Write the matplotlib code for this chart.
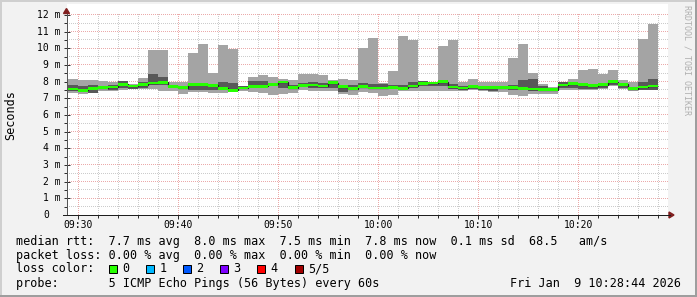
import matplotlib
matplotlib.use("Agg")
import matplotlib.pyplot as plt
import matplotlib.dates as mdates
from matplotlib.patches import Rectangle, Polygon
from matplotlib.lines import Line2D
from matplotlib.colors import to_rgba
import numpy as np
import pandas as pd

W, H, DPI = 697, 297, 100

# ---------------- data (5 sorted pings per minute, ms) ----------------
start_time = "2026-01-09 09:28"
ping_max = [7.90, 8.16, 8.08, 8.08, 8.06, 7.96, 8.02, 7.86, 8.22, 9.92,
            9.92, 7.96, 7.96, 9.72, 10.26, 8.52, 10.20, 9.96, 7.74, 8.26,
            8.38, 8.26, 8.16, 8.08, 8.46, 8.46, 8.38, 8.12, 8.16, 8.10,
            10.02, 10.62, 7.92, 8.66, 10.76, 10.52, 8.06, 7.98, 10.12, 10.48,
            7.96, 8.16, 7.96, 7.96, 7.96, 9.42, 10.26, 8.52, 7.86, 7.68,
            7.96, 8.16, 8.72, 8.78, 8.48, 8.72, 8.12, 7.96, 10.56, 11.46]
ping_p4 = [7.80, 7.82, 7.74, 7.82, 7.68, 7.82, 8.02, 7.82, 7.98, 8.48,
           8.28, 7.76, 7.72, 7.92, 7.84, 7.80, 7.96, 7.92, 7.72, 8.02,
           8.02, 7.92, 8.02, 7.82, 7.92, 7.96, 7.92, 8.06, 7.72, 7.78,
           7.92, 7.88, 7.88, 7.82, 7.82, 7.98, 8.02, 7.98, 8.06, 7.88,
           7.72, 7.82, 7.72, 7.72, 7.72, 7.82, 8.12, 8.18, 7.72, 7.62,
           7.96, 7.98, 7.92, 7.88, 7.82, 8.02, 7.92, 7.68, 7.98, 8.16]
ping_median = [7.54, 7.56, 7.47, 7.60, 7.64, 7.67, 7.84, 7.74, 7.82, 7.92,
               7.96, 7.72, 7.64, 7.84, 7.84, 7.78, 7.60, 7.48, 7.62, 7.72,
               7.72, 7.84, 7.98, 7.64, 7.78, 7.80, 7.75, 7.94, 7.70, 7.58,
               7.70, 7.62, 7.62, 7.66, 7.60, 7.74, 7.90, 7.92, 8.00, 7.68,
               7.62, 7.72, 7.64, 7.64, 7.64, 7.66, 7.60, 7.56, 7.52, 7.52,
               7.80, 7.88, 7.82, 7.76, 7.82, 8.00, 7.84, 7.58, 7.68, 7.74]
ping_p2 = [7.40, 7.42, 7.38, 7.34, 7.58, 7.52, 7.62, 7.56, 7.62, 7.78,
           7.82, 7.62, 7.54, 7.52, 7.52, 7.52, 7.52, 7.42, 7.56, 7.62,
           7.62, 7.72, 7.62, 7.62, 7.72, 7.62, 7.62, 7.62, 7.38, 7.52,
           7.62, 7.56, 7.58, 7.58, 7.52, 7.62, 7.76, 7.72, 7.72, 7.58,
           7.52, 7.58, 7.52, 7.42, 7.56, 7.52, 7.52, 7.42, 7.42, 7.42,
           7.62, 7.62, 7.58, 7.56, 7.62, 7.82, 7.62, 7.52, 7.52, 7.52]
ping_min = [7.16, 7.32, 7.26, 7.32, 7.42, 7.46, 7.52, 7.56, 7.56, 7.56,
            7.46, 7.46, 7.26, 7.38, 7.38, 7.32, 7.32, 7.38, 7.46, 7.38,
            7.32, 7.22, 7.26, 7.32, 7.52, 7.46, 7.46, 7.42, 7.26, 7.22,
            7.38, 7.32, 7.12, 7.22, 7.42, 7.46, 7.46, 7.46, 7.46, 7.46,
            7.46, 7.52, 7.46, 7.38, 7.38, 7.22, 7.12, 7.26, 7.26, 7.26,
            7.52, 7.52, 7.52, 7.52, 7.56, 7.76, 7.56, 7.42, 7.48, 7.48]

x_tick_labels = ["09:30", "09:40", "09:50", "10:00", "10:10", "10:20"]
y_tick_values = list(range(0, 13))
y_unit = "m"
y_label = "Seconds"

legend_rows = [
    "median rtt:  7.7 ms avg  8.0 ms max  7.5 ms min  7.8 ms now  0.1 ms sd  68.5   am/s",
    "packet loss: 0.00 % avg  0.00 % max  0.00 % min  0.00 % now",
]
loss_labels = ["0", "1", "2", "3", "4", "5/5"]
loss_colors = ["#26ff00", "#00b8ff", "#0059ff", "#7e00ff", "#ff0000", "#a00000"]
probe_text = "probe:       5 ICMP Echo Pings (56 Bytes) every 60s"
date_text = "Fri Jan  9 10:28:44 2026"
watermark = "RRDTOOL / TOBI OETIKER"

# ---------------- styling ----------------
MONO = "DejaVu Sans Mono"
BG = "#f2f2f2"
SMOKE_OUT = "#a4a4a4"
SMOKE_IN = "#585858"
GRID_C = "#cccccc"
MGRID_C = "#ebaaaa"
ARROW_C = (0.5, 0.12, 0.12)

fig = plt.figure(figsize=(W / DPI, H / DPI), dpi=DPI, facecolor=BG)

def fx(px):
    return px / W

def fy(py):
    return 1 - py / H

# plot geometry in pixels
X0, X1 = 66.5, 668.0
Y0, YTOP = 215.0, 4.0
PX_PER_MS = 16.667

# white canvas behind a transparent axes (so the pixel grid can sit between)
fig.add_artist(Rectangle((fx(X0), fy(Y0)), (X1 - X0) / W, (Y0 - YTOP) / H, transform=fig.transFigure,
                         facecolor="white", edgecolor="none", zorder=-3))
ax = fig.add_axes([fx(X0), fy(Y0), (X1 - X0) / W, (Y0 - YTOP) / H])
ax.patch.set_visible(False)
for s in ax.spines.values():
    s.set_visible(False)

edges = mdates.date2num(pd.date_range(start_time, periods=len(ping_max) + 1, freq="min").to_pydatetime())
t930 = mdates.date2num(pd.Timestamp("2026-01-09 09:30").to_pydatetime())
one_min = 1.0 / 1440.0
xlim_left = t930 + (X0 - 78.3) / 10.0 * one_min
xlim_right = t930 + (X1 - 78.3) / 10.0 * one_min
ax.set_xlim(xlim_left, xlim_right)
ax.set_ylim(0, (Y0 - YTOP) / PX_PER_MS)
graph_top = (Y0 - 13.0) / PX_PER_MS

minor_y = [v + 0.5 for v in y_tick_values[:-1]]
major_y = y_tick_values[1:]
grid_times = np.arange(t930, xlim_right, 2 * one_min)
major_times = [t930 + 10 * i * one_min for i in range(len(x_tick_labels))]
minor_times = [t for i, t in enumerate(grid_times) if i % 5 != 0]

# ---- dotted grid rendered pixel-exact (1 px on, 1 px off) ----
grid_img = np.zeros((H, W, 4))
def to_px(t, v):
    dx, dy = ax.transData.transform((t, v))
    return int(np.floor(dx)), H - 1 - int(np.floor(dy))
col_l, _ = to_px(xlim_left, 0)
col_r, _ = to_px(xlim_right, 0)
_, row_bot = to_px(xlim_left, 0)
_, row_top = to_px(xlim_left, graph_top)
def hline(v, c):
    _, r = to_px(xlim_left, v)
    for cc in range(col_l + 1, col_r + 1, 2):
        grid_img[r, cc] = to_rgba(c)
def vline(t, c):
    cidx, _ = to_px(t, 0)
    for rr in range(row_bot - 1, row_top, -2):
        grid_img[rr, cidx] = to_rgba(c)
for v in minor_y:
    hline(v, GRID_C)
for t in minor_times:
    vline(t, GRID_C)
for v in major_y:
    hline(v, MGRID_C)
for t in major_times:
    vline(t, MGRID_C)
fig.figimage(grid_img, xo=0, yo=0, origin="upper", zorder=-2)

# smoke
pmax = np.array(ping_max); pmin = np.array(ping_min)
p4 = np.array(ping_p4); p2 = np.array(ping_p2); med = np.array(ping_median)
ax.stairs(pmax, edges, baseline=pmin, fill=True, color=SMOKE_OUT, zorder=2)
ax.stairs(p4, edges, baseline=p2, fill=True, color=SMOKE_IN, zorder=3)
ax.stairs(med, edges, baseline=None, color="#202020", linewidth=0.9, zorder=4)
hw = 1.3 / PX_PER_MS
ax.stairs(med + hw, edges, baseline=med - hw, fill=True, color=loss_colors[0], zorder=5)

# ticks
lw1 = 72.0 / DPI
ax.set_xticks(major_times)
ax.set_xticks(grid_times, minor=True)
ax.set_yticks(major_y)
ax.set_yticks(minor_y, minor=True)
ax.tick_params(axis="both", which="both", labelleft=False, labelbottom=False, color="#303030", width=lw1)
ax.tick_params(axis="x", which="major", direction="out", length=3)
ax.tick_params(axis="x", which="minor", direction="out", length=2)
ax.tick_params(axis="y", which="major", direction="inout", length=4)
ax.tick_params(axis="y", which="minor", direction="out", length=2)
ax.set_xlim(xlim_left, xlim_right)
ax.set_ylim(0, (Y0 - YTOP) / PX_PER_MS)

# tick labels
ytr = ax.get_yaxis_transform()
char_w = 0.602 * 7 * DPI / 72.0
for v in y_tick_values:
    if v == 0:
        ax.text((60.5 - 2 * char_w - X0) / (X1 - X0), v, f"{v}", transform=ytr, ha="right", va="center",
                family=MONO, fontsize=7, color="black", clip_on=False)
    else:
        ax.text((60.5 - X0) / (X1 - X0), v, f"{v} {y_unit}", transform=ytr, ha="right", va="center",
                family=MONO, fontsize=7, color="black", clip_on=False)
xtr = ax.get_xaxis_transform()
for t, lab in zip(major_times, x_tick_labels):
    ax.text(t, -(224.5 - Y0) / (Y0 - YTOP), lab, transform=xtr, ha="center", va="center",
            family=MONO, fontsize=7, color="black", clip_on=False)

# axes lines and arrows
fig.add_artist(Line2D([fx(X0), fx(X0)], [fy(Y0), fy(13.5)], color="#555555", linewidth=lw1))
fig.add_artist(Line2D([fx(63), fx(669.5)], [fy(Y0), fy(Y0)], color="#1f1f1f", linewidth=lw1))
fig.add_artist(Polygon([(fx(X0), fy(8.5)), (fx(63.5), fy(13.5)), (fx(69.5), fy(13.5))],
                       closed=True, color=ARROW_C, transform=fig.transFigure))
fig.add_artist(Polygon([(fx(674), fy(Y0)), (fx(669), fy(212)), (fx(669), fy(218))],
                       closed=True, color=ARROW_C, transform=fig.transFigure))

# y label and watermark
fig.text(fx(10.5), fy(115), y_label, rotation=90, ha="center", va="center", family=MONO, fontsize=8.5)
fig.text(fx(687), fy(5), watermark, rotation=270, ha="center", va="top", family=MONO, fontsize=6,
         color="#b0b0b0")

# legend
row_y = [241, 255, 269, 283.5]
LEG_FS = 8.5
for txt, yy in zip(legend_rows, row_y[:2]):
    fig.text(fx(16), fy(yy), txt, ha="left", va="center", family=MONO, fontsize=LEG_FS)
fig.text(fx(16), fy(row_y[2]), "loss color:", ha="left", va="center", family=MONO, fontsize=LEG_FS)
for i, (lab, col) in enumerate(zip(loss_labels, loss_colors)):
    bx = 108.5 + i * 37.2
    fig.add_artist(Rectangle((fx(bx), fy(row_y[2] + 4)), 8 / W, 8 / H, transform=fig.transFigure,
                             facecolor=col, edgecolor="black", linewidth=lw1))
    fig.text(fx(bx + 13.5), fy(row_y[2]), lab, ha="left", va="center", family=MONO, fontsize=LEG_FS)
fig.text(fx(16), fy(row_y[3]), probe_text, ha="left", va="center", family=MONO, fontsize=LEG_FS)
fig.text(fx(681), fy(row_y[3]), date_text, ha="right", va="center", family=MONO, fontsize=LEG_FS)

# frame shading
fig.add_artist(Rectangle((0, fy(2)), 1, 2 / H, transform=fig.transFigure, facecolor="#cfcfcf", edgecolor="none"))
fig.add_artist(Rectangle((0, 0), 2 / W, 1, transform=fig.transFigure, facecolor="#cfcfcf", edgecolor="none"))
fig.add_artist(Rectangle((0, 0), 1, 2.5 / H, transform=fig.transFigure, facecolor="#9e9e9e", edgecolor="none"))
fig.add_artist(Rectangle((1 - 2.5 / W, 0), 2.5 / W, 1, transform=fig.transFigure, facecolor="#9e9e9e", edgecolor="none"))

fig.savefig("out.png", dpi=DPI, facecolor=BG)
